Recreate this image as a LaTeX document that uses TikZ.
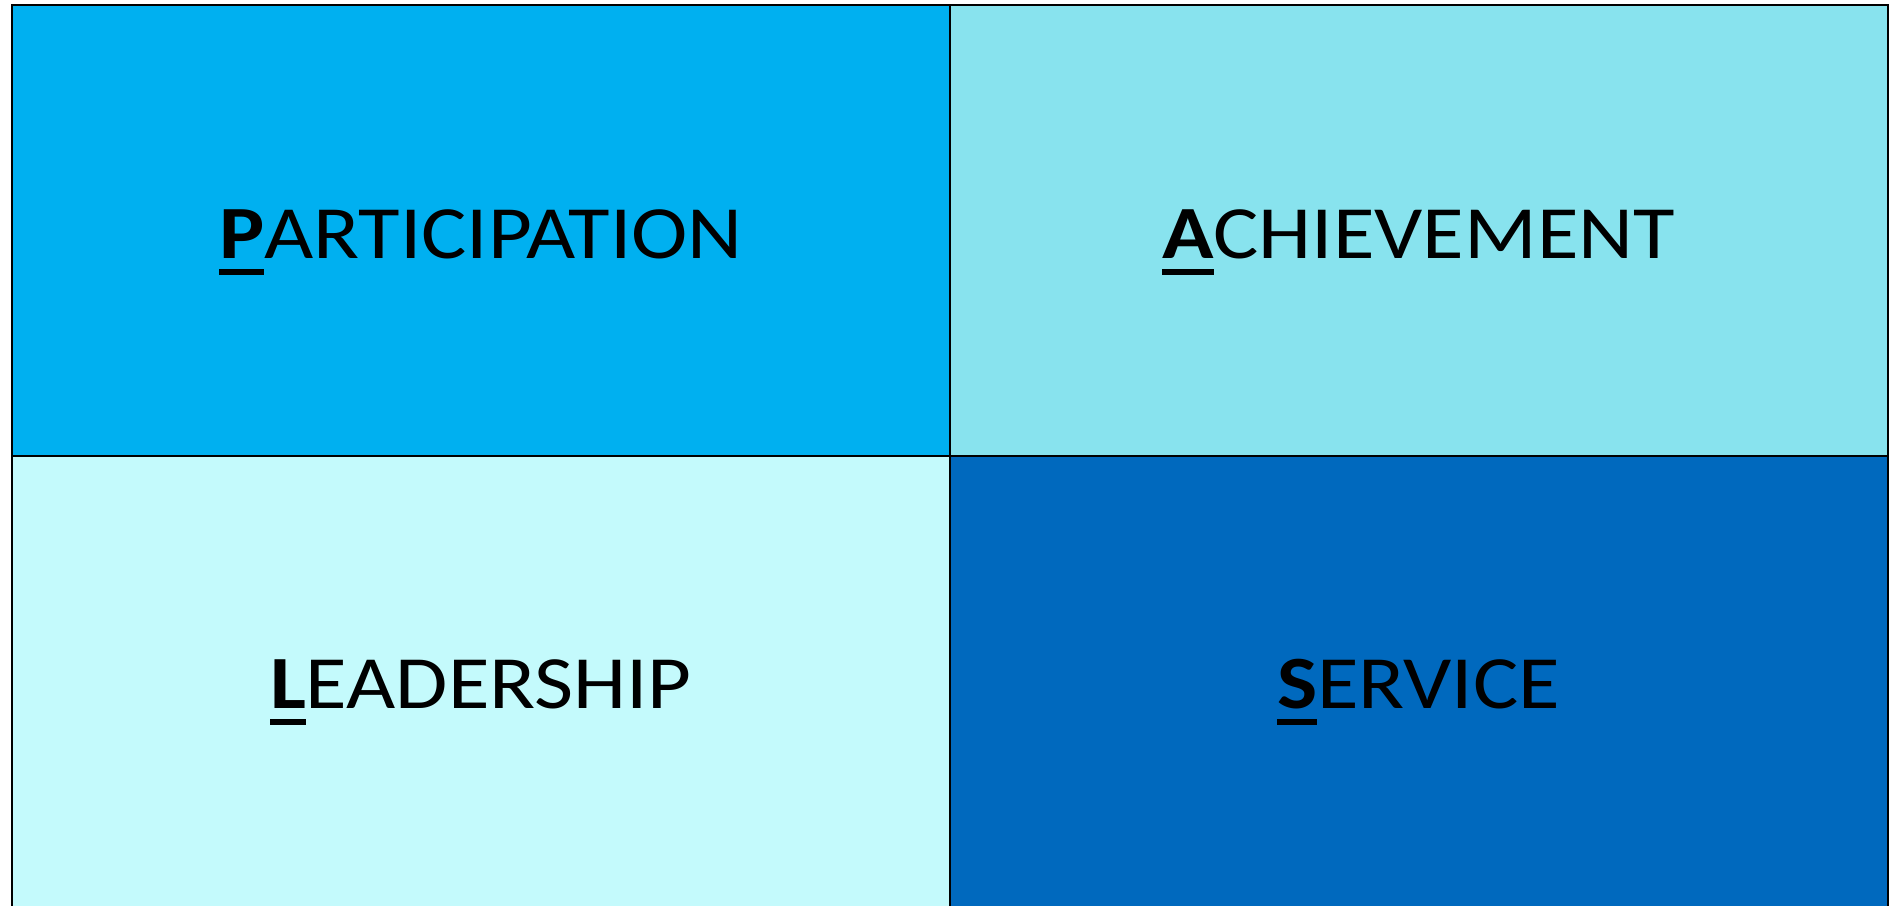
\documentclass[tikz,border=0pt]{standalone}
\usepackage{graphicx}
\usepackage{fontspec}
\setmainfont{Carlito}
\definecolor{cPart}{HTML}{00B0F0}
\definecolor{cAch}{HTML}{88E3EE}
\definecolor{cLead}{HTML}{C4FAFC}
\definecolor{cServ}{HTML}{0069BE}
\newcommand\capword[2]{\setbox0\hbox{\scalebox{1}[0.885]{\textbf{#1}}}\rlap{\rule[-17pt]{\wd0}{6pt}}\box0\scalebox{1}[0.885]{#2}}
\tikzset{
  cell/.style={draw=black, line width=2.8pt, minimum width=938pt, minimum height=451pt, inner sep=0pt, outer sep=0pt},
  word/.style={anchor=base west, inner sep=0pt, outer sep=0pt, font=\fontsize{85}{100}\selectfont, text=black}
}
\begin{document}
\begin{tikzpicture}[x=1pt,y=-1pt]
\useasboundingbox (0,0) rectangle (1901,905);
\node[cell, fill=cPart] (p) at (481,230.5) {};
\node[cell, fill=cAch] (a) at (1419,230.5) {};
\node[cell, fill=cLead] (l) at (481,681.5) {};
\node[cell, fill=cServ] (s) at (1419,681.5) {};
\node[word] (tp) at (219,258) {\capword{P}{ARTICIPATION}};
\node[word] (ta) at (1162,258) {\capword{A}{CHIEVEMENT}};
\node[word] (tl) at (270,708) {\capword{L}{EADERSHIP}};
\node[word] (ts) at (1277,708) {\capword{S}{ERVICE}};
\end{tikzpicture}
\end{document}
